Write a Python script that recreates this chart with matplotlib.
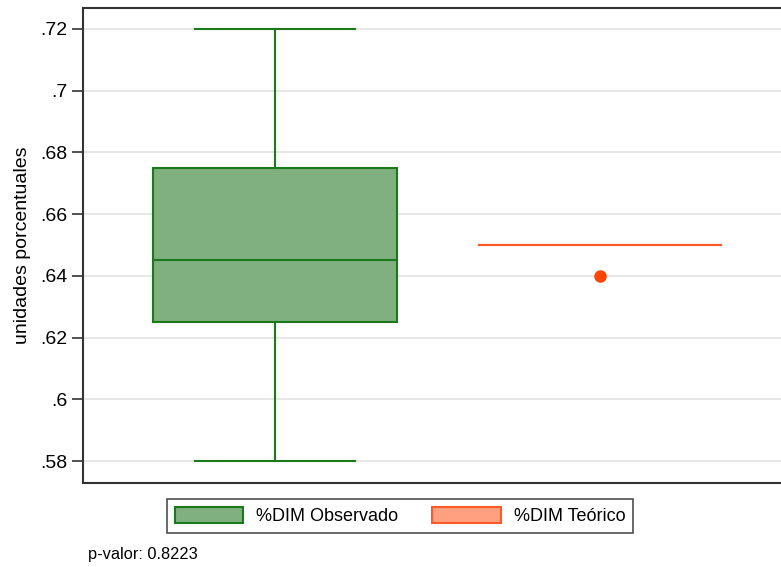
import matplotlib.pyplot as plt
from matplotlib.patches import Patch
from matplotlib.ticker import FuncFormatter

plt.rcParams['font.family'] = ['Liberation Sans', 'DejaVu Sans']

# Box statistics
groups = ['%DIM Observado', '%DIM Teórico']
q1 = [0.625, 0.65]
med = [0.645, 0.65]
q3 = [0.675, 0.65]
whislo = [0.58, 0.65]
whishi = [0.72, 0.65]
outliers = [[], [0.64]]
yticks = [0.58, 0.60, 0.62, 0.64, 0.66, 0.68, 0.70, 0.72]
p_valor = 0.8223

green_fill = '#80b080'
green_edge = '#1a7a1a'
orange_fill = '#ffa080'
orange_edge = '#ff5a26'

fig = plt.figure(figsize=(7.81, 5.67), dpi=100)
ax = fig.add_axes([83 / 781, (567 - 483) / 567, (792 - 83) / 781, (483 - 8) / 567])

stats = []
for i in range(len(groups)):
    stats.append({'q1': q1[i], 'med': med[i], 'q3': q3[i],
                  'whislo': whislo[i], 'whishi': whishi[i], 'fliers': outliers[i]})

bp = ax.bxp(stats, positions=[1, 2], widths=0.75, patch_artist=True,
            showfliers=True, capwidths=0.49)

colors = [(green_fill, green_edge), (orange_fill, orange_edge)]
for i, (fc, ec) in enumerate(colors):
    bp['boxes'][i].set_facecolor(fc)
    bp['boxes'][i].set_edgecolor(ec)
    bp['boxes'][i].set_linewidth(1.5)
    bp['medians'][i].set_color(ec)
    bp['medians'][i].set_linewidth(1.5)
    for w in bp['whiskers'][2 * i:2 * i + 2] + bp['caps'][2 * i:2 * i + 2]:
        w.set_color(ec)
        w.set_linewidth(1.5)
        if i == 1:
            w.set_visible(False)
    bp['fliers'][i].set_marker('o')
    bp['fliers'][i].set_markerfacecolor('#ff4500')
    bp['fliers'][i].set_markeredgecolor('#ff4500')
    bp['fliers'][i].set_markersize(8)

ax.set_xlim(1 - 192 / 325, 2 + 192 / 325)
ax.set_ylim(0.5729, 0.7268)
ax.set_yticks(yticks)
ax.yaxis.set_major_formatter(FuncFormatter(lambda v, p: ('%g' % round(v, 2)).lstrip('0')))
ax.set_xticks([])
ax.grid(axis='y', color='#e3e3e3', linewidth=1.2)
ax.set_axisbelow(True)
for s in ['left', 'bottom', 'top', 'right']:
    ax.spines[s].set_color('#333333')
    ax.spines[s].set_linewidth(1.5)
ax.tick_params(axis='y', labelsize=14, length=8, width=1.2, color='#333333', pad=3)
ax.set_ylabel('unidades porcentuales', fontsize=14, labelpad=7)

handles = [Patch(facecolor=green_fill, edgecolor=green_edge, linewidth=1.5),
           Patch(facecolor=orange_fill, edgecolor=orange_edge, linewidth=1.5)]
leg = fig.legend(handles, groups, ncol=2, loc='center',
                 bbox_to_anchor=(400 / 781, 1 - 516 / 567), fontsize=13,
                 frameon=True, fancybox=False, edgecolor='#222222',
                 handlelength=3.8, handleheight=1.05, columnspacing=1.9,
                 handletextpad=0.7, borderpad=0.45, borderaxespad=0)
leg.get_frame().set_linewidth(1.2)

fig.text(88 / 781, 1 - 554 / 567, 'p-valor: %.4f' % p_valor, fontsize=11.8,
         va='center', ha='left')

fig.savefig('out.png', dpi=100)
